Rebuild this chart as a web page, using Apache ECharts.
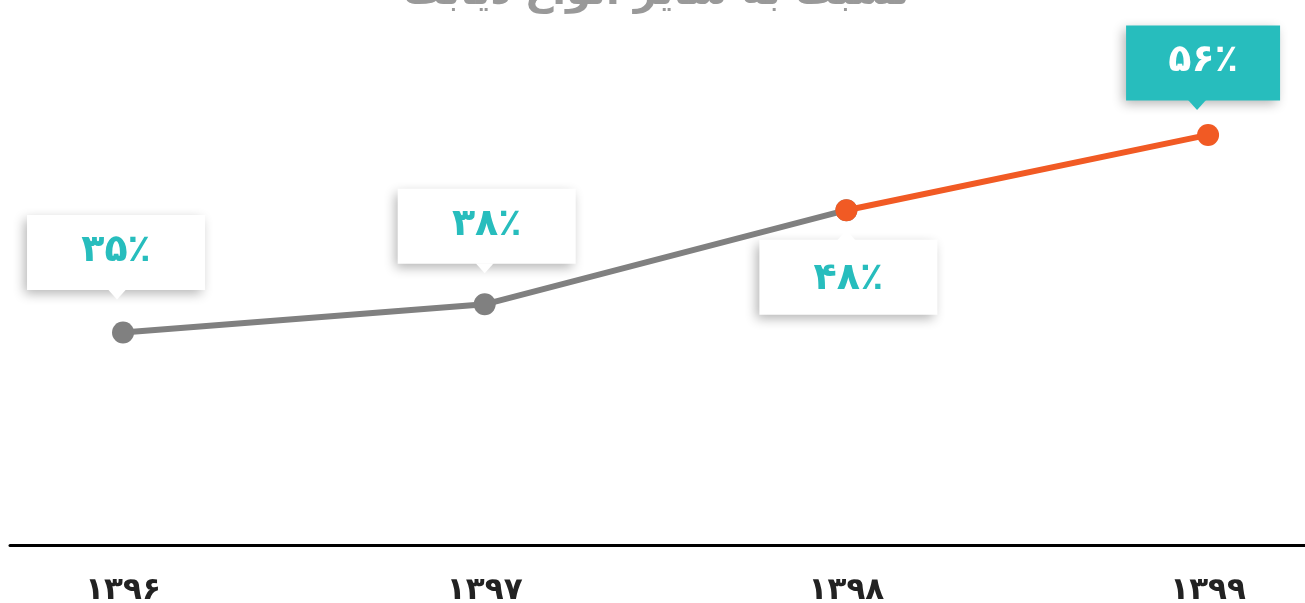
<!DOCTYPE html>
<html>
<head>
<meta charset="utf-8">
<script src="https://cdn.jsdelivr.net/npm/echarts@6/dist/echarts.min.js"></script>
<style>
  html, body { margin: 0; padding: 0; background: #fff; }
  #chart { width: 1305px; height: 603px; }
</style>
</head>
<body>
<div id="chart"></div>
<script>
// years (x labels) and share values
const years = ['۱۳۹۶', '۱۳۹۷', '۱۳۹۸', '۱۳۹۹']
const values = [35, 38, 48, 56]
const valueLabels = ['۳۵٪', '۳۸٪', '۴۸٪', '۵۶٪']
const titleText = 'نسبت به سایر انواع دیابت'

const teal = '#27bdbd'
const gray = '#808080'
const orange = '#f15a24'
const font = 'DejaVu Sans'

// label box look per point: side, gap, x shift, pointer x shift, width, highlighted
const boxStyles = [
  { side: 'top', gap: 42, dx: -7, px: -6, w: 178, hi: false },
  { side: 'top', gap: 40, dx: 2, px: 0, w: 178, hi: false },
  { side: 'bottom', gap: 29, dx: 2, px: 0, w: 178, hi: false },
  { side: 'top', gap: 34, dx: -5, px: -11, w: 154, hi: true },
]

const pts = values.map((v, i) => [i, v])

const chart = echarts.init(document.getElementById('chart'))

chart.setOption({
  animation: false,
  title: {
    text: titleText,
    left: 398,
    top: -31,
    textStyle: { fontSize: 40, fontWeight: 'bold', color: '#999', fontFamily: font },
  },
  grid: { left: 10, right: 0, top: 0, bottom: 58, outerBoundsMode: 'none' },
  xAxis: {
    type: 'value',
    min: -0.3125,
    max: 3.268,
    axisLine: { show: true, lineStyle: { color: '#000', width: 3 } },
    axisTick: { show: false },
    splitLine: { show: false },
    axisLabel: {
      customValues: [0, 1, 2, 3],
      formatter: v => years[v],
      margin: 30,
      fontSize: 31,
      fontWeight: 'bold',
      color: '#222',
      fontFamily: font,
    },
  },
  yAxis: { type: 'value', min: 12.42, max: 70.34, show: false },
  series: [
    {
      type: 'line',
      data: pts.slice(0, 3),
      symbol: 'circle',
      symbolSize: 22,
      lineStyle: { color: gray, width: 6 },
      itemStyle: { color: gray },
      z: 2,
    },
    {
      type: 'line',
      data: pts.slice(2),
      symbol: 'circle',
      symbolSize: 22,
      lineStyle: { color: orange, width: 6 },
      itemStyle: { color: orange },
      z: 3,
    },
    {
      // label boxes
      type: 'scatter',
      symbolSize: 1,
      itemStyle: { color: 'rgba(0,0,0,0)', opacity: 1 },
      z: 4,
      data: pts.map((p, i) => {
        const s = boxStyles[i]
        return {
          value: p,
          label: {
            show: true,
            formatter: valueLabels[i],
            position: s.side,
            distance: s.gap,
            offset: [s.dx, 0],
            width: s.w,
            height: 75,
            lineHeight: 78,
            fontSize: 38,
            fontWeight: 'bold',
            fontFamily: font,
            color: s.hi ? '#fff' : teal,
            backgroundColor: s.hi ? teal : '#fff',
            shadowColor: 'rgba(0,0,0,0.3)',
            shadowBlur: 11,
            shadowOffsetX: -3,
            shadowOffsetY: 4,
          },
        }
      }),
    },
    {
      // small pointers under/over the boxes
      type: 'scatter',
      symbol: 'triangle',
      symbolSize: [18, 10],
      z: 5,
      data: pts.map((p, i) => {
        const s = boxStyles[i]
        const up = s.side === 'bottom'
        return {
          value: p,
          symbolRotate: up ? 0 : 180,
          symbolOffset: [s.px, up ? s.gap - 4 : -(s.gap - 4)],
          itemStyle: { color: s.hi ? teal : '#fff', opacity: 1 },
        }
      }),
    },
  ],
})
</script>
</body>
</html>
